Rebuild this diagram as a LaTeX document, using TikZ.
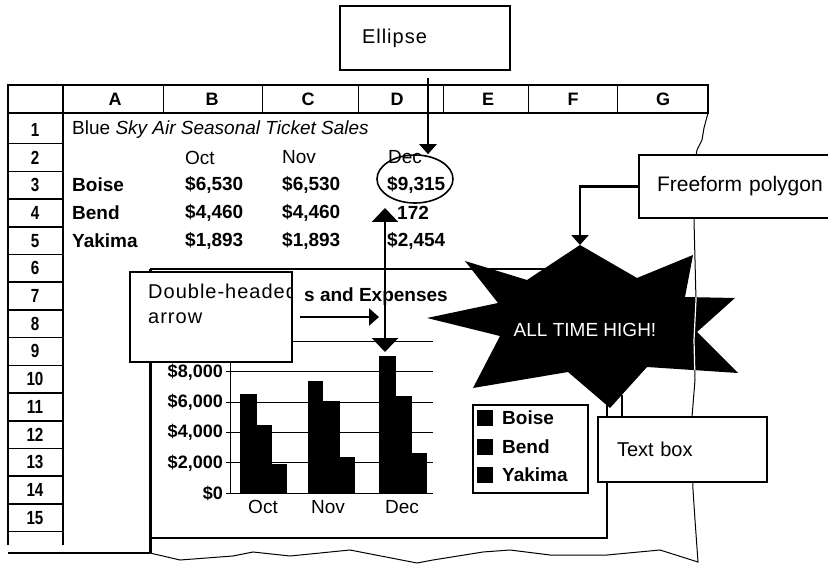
\documentclass[tikz,border=0pt]{standalone}
\usepackage{fontspec}
\setmainfont{Liberation Sans}
\newfontfamily\numfont{Liberation Sans}[FakeStretch=0.8]
\newfontfamily\callfont{Liberation Sans}[LetterSpace=5]
\usetikzlibrary{arrows.meta}
\usetikzlibrary{shapes.geometric}

\newcommand{\starpath}{(580,245) -- (637,278) -- (693,255) -- (685,297) -- (735,298) -- (697,332) -- (738,373) -- (647,367) -- (610,408) -- (568,372) -- (473,388) -- (500,336) -- (427,318) -- (498,303) -- (465,261) -- (527,280) -- cycle}

\begin{document}
\begin{tikzpicture}[x=1pt,y=1pt,yscale=-1,
  thickline/.style={line width=1.6pt},
  ptr/.style={line width=2.8pt,-{Triangle[width=17pt,length=10pt]}},
  dblptr/.style={line width=2.8pt,{Triangle[width=26pt,length=14pt]}-{Triangle[width=26pt,length=14pt]}},
  callout/.style={draw,line width=1.6pt,fill=white,align=left,inner ysep=0pt,font=\fontsize{20}{25}\selectfont},
  colhead/.style={font=\bfseries\fontsize{18}{20}\selectfont},
  rownum/.style={font=\numfont\bfseries\fontsize{19}{20}\selectfont},
  cell/.style={anchor=west,inner sep=0pt,font=\bfseries\fontsize{19}{22}\selectfont},
  plaincell/.style={anchor=west,inner sep=0pt,font=\fontsize{19}{22}\selectfont},
  ylab/.style={anchor=east,inner sep=0pt,font=\bfseries\fontsize{18}{20}\selectfont},
  legbox/.style={fill=black,minimum size=16pt,inner sep=0pt}]
\path[use as bounding box] (0,0) rectangle (828,567);
\clip (0,0) rectangle (828,567);

%Shape: Header row
\draw[thickline] (8,85) rectangle (708,113);
\foreach \x in {163,262,358,443,528,617}
  \draw[line width=0.8pt] (\x,85) -- (\x,113);
\foreach \c/\x in {A/115,B/212,C/308,D/397,E/488,F/573,G/663}
  \node[colhead] (h\c) at (\x,99) {\c};

%Shape: Row numbers
\draw[thickline] (8,85) -- (8,545);
\draw[thickline] (63,85) -- (63,545);
\foreach \r in {1,...,15}{
  \draw[thickline] (8,{116+27.7*\r}) -- (63,{116+27.7*\r});
  \node[rownum] (n\r) at (35,{102.15+27.7*\r}) {\r};
}

% Text Node
\node[plaincell] (title) at (72,130) {Blue \textit{Sky Air Seasonal Ticket Sales}};
\node[plaincell] (oct) at (185,157.5) {Oct};
\node[plaincell] (nov) at (282,157.5) {Nov};
\node[plaincell] (dec) at (388,157.5) {Dec};
\node[cell] (boise) at (72,185.2) {Boise};
\node[cell] (boiseb) at (185,185.2) {\$6,530};
\node[cell] (boisec) at (282,185.2) {\$6,530};
\node[cell] (boised) at (387,185.2) {\$9,315};
\node[cell] (bend) at (72,213) {Bend};
\node[cell] (bendb) at (185,213) {\$4,460};
\node[cell] (bendc) at (282,213) {\$4,460};
\node[cell] (bendd) at (397,213) {172};
\node[cell] (yak) at (72,240.6) {Yakima};
\node[cell] (yakb) at (185,240.6) {\$1,893};
\node[cell] (yakc) at (282,240.6) {\$1,893};
\node[cell] (yakd) at (387,240.6) {\$2,454};

%Shape: Chart frame
\draw[line width=1.2pt] (150,269) -- (607,269) -- (607,538) -- (150,538);
\draw[line width=3pt] (150,269) -- (150,553);

%Straight Lines: gridlines and axis
\foreach \y in {341.5,371.8,402.1,432.4,462.7}
  \draw[line width=1pt] (226,\y) -- (433,\y);
\draw[line width=1pt] (226,493) -- (433,493);
\draw[line width=1pt] (230,341.5) -- (230,493);

% Bars
\foreach \xa/\xb/\t in {240/257/394,257/272/425,272/287/464,308/323/381,323/340/401,340/355/457,379/396/356,396/412/396,412/427/453}
  \fill (\xa,\t) rectangle (\xb,493);

% Text Node
\node[ylab] (y8) at (223,372) {\$8,000};
\node[ylab] (y6) at (223,402) {\$6,000};
\node[ylab] (y4) at (223,432.5) {\$4,000};
\node[ylab] (y2) at (223,463) {\$2,000};
\node[ylab] (y0) at (223,493) {\$0};
\node[font=\fontsize{19}{22}\selectfont] (xoct) at (263,507) {Oct};
\node[font=\fontsize{19}{22}\selectfont] (xnov) at (328,507) {Nov};
\node[font=\fontsize{19}{22}\selectfont] (xdec) at (402,507) {Dec};
\node[anchor=east,inner sep=0pt,font=\bfseries\fontsize{19}{22}\selectfont] (ctitle) at (448,297) {s and Expenses};

%Shape: Legend
\draw[thickline,fill=white] (473,405) rectangle (588,493);
\foreach \nm/\y in {Boise/418,Bend/447,Yakima/475}{
  \node[legbox] (k\nm) at (485,\y) {};
  \node[cell] (l\nm) at (502,\y) {\nm};
}

%Curve Lines: torn edges
\draw[line width=1pt] (708,113) -- (704,128) -- (702,140) -- (697,150) -- (696,156) -- (694,220) -- (695,260) -- (696,300) -- (694,340) -- (695,380) -- (692,417) -- (693,490) -- (695,520) -- (698,562)
  -- (660,550) -- (607,555) -- (550,555) -- (510,550) -- (483,552) -- (433,560) -- (417,563) -- (350,550) -- (290,556) -- (253,552) -- (233,556) -- (180,560) -- (150,553);
\draw[thickline] (150,553) -- (8,553);

%Shape: Freeform polygon
\fill \starpath;
\begin{scope}
  \clip \starpath;
  \draw[white,line width=1.2pt] (694,220) -- (695,260) -- (696,300) -- (694,340) -- (695,380);
\end{scope}
\node[white,font=\fontsize{19}{22}\selectfont] (allhigh) at (585,330) {ALL TIME HIGH!};
\coordinate (startop) at (580,245);
\coordinate (tbstem) at (622,395);

%Shape: Callouts
\node[callout,font=\callfont\fontsize{20}{25}\selectfont,minimum width=170,minimum height=64,inner xsep=22pt,text width=126pt] (ellbox) at (425,38) {Ellipse};
\node[callout,font=\fontsize{21}{25}\selectfont,minimum width=261,minimum height=63,inner xsep=18pt,text width=225pt] (ffbox) at (769.5,186.5) {Freeform polygon};
\node[callout,minimum width=169,minimum height=65,inner xsep=19pt,text width=131pt] (tbox) at (682.5,449.5) {Text box};
\node[callout,minimum width=162,minimum height=90] (dblbox) at (211,317) {};
\begin{scope}
  \clip (dblbox.south west) rectangle (dblbox.north east);
  \node[anchor=north west,align=left,inner sep=0pt,font=\callfont\fontsize{20}{25}\selectfont] (dbltext) at (148,284) {Double-headed\\arrow};
\end{scope}

%Shape: Ellipse
\node[draw,ellipse,line width=1.6pt,minimum width=76,minimum height=48,inner sep=0pt] (oval) at (415,179) {};

%Straight Lines: arrows
\coordinate (ellfoot) at (428,78);
\draw[ptr] (ellfoot) -- (ellfoot |- oval.north);
\draw[ptr] (ffbox.west) -| (startop);
\draw[line width=1.2pt] (tbstem) -- (tbstem |- tbox.north);
\coordinate (dtop) at (385,208);
\coordinate (dbot) at (385,352);
\draw[dblptr] (dtop) -- (dbot);
\coordinate (dmid) at (379,317);
\draw[ptr] ([xshift=7pt]dblbox.east) -- (dmid);

\end{tikzpicture}
\end{document}
